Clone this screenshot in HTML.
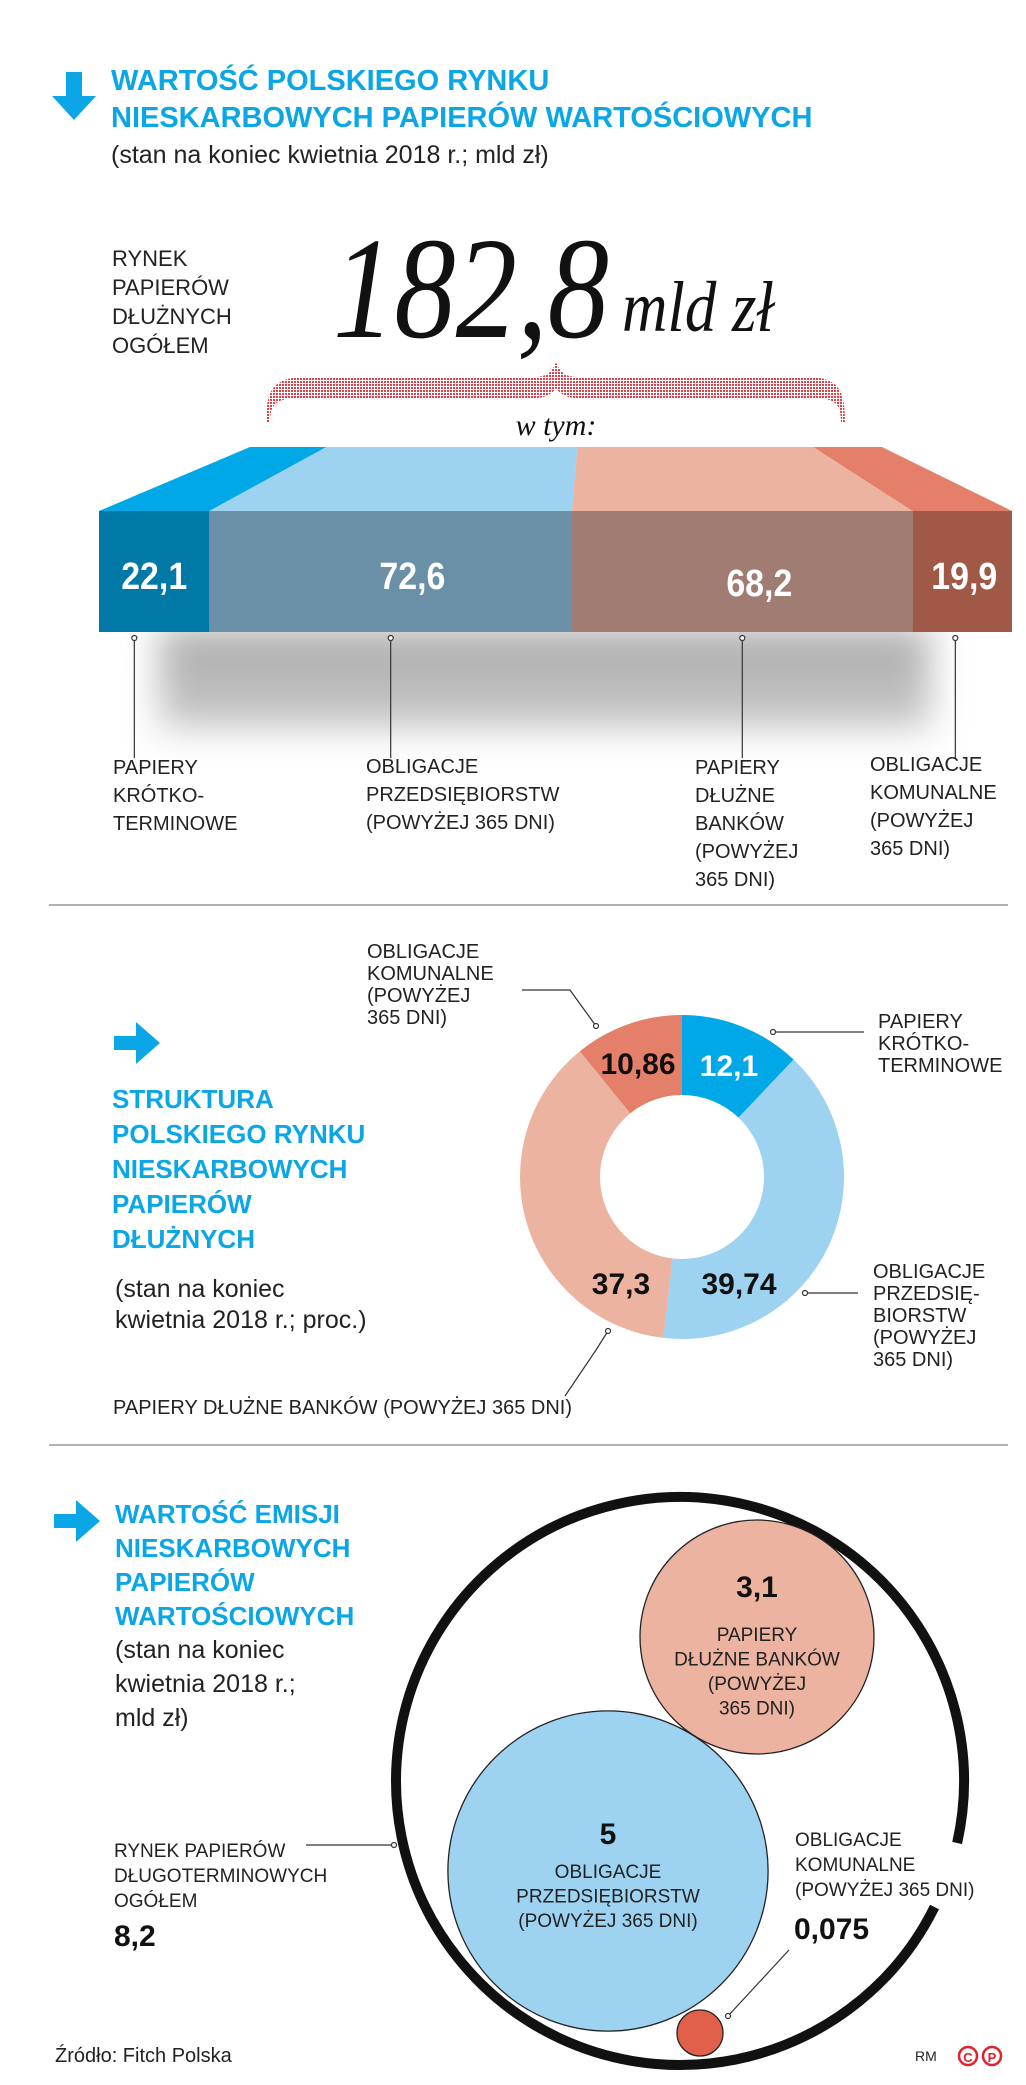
<!DOCTYPE html>
<html><head><meta charset="utf-8"><style>
html,body{margin:0;padding:0;background:#fff}
svg{display:block}
text{font-family:"Liberation Sans","DejaVu Sans",sans-serif}
</style></head><body>
<svg id="c" width="1026" height="2085" viewBox="0 0 1026 2085" xmlns="http://www.w3.org/2000/svg">
<defs>
<pattern id="dots" width="3" height="3" patternUnits="userSpaceOnUse"><rect width="2" height="2" fill="#e0404a"/></pattern>
<filter id="blur" x="-20%" y="-80%" width="140%" height="260%"><feGaussianBlur stdDeviation="18"/></filter>
<linearGradient id="shg" x1="0" y1="0" x2="0" y2="1"><stop offset="0" stop-color="#aaa"/><stop offset="1" stop-color="#c8c8c8"/></linearGradient>
</defs>

<!-- Section 1 header -->
<path d="M66 72 h16 v24 h14 l-22 24 l-22 -24 h14 z" fill="#0aa6e6"/>
<text x="111" y="90" font-size="29" font-weight="bold" fill="#0aa6e6">WARTOŚĆ POLSKIEGO RYNKU</text>
<text x="111" y="127" font-size="29" font-weight="bold" fill="#0aa6e6">NIESKARBOWYCH PAPIERÓW WARTOŚCIOWYCH</text>
<text x="111" y="163" font-size="25" fill="#222">(stan na koniec kwietnia 2018 r.; mld zł)</text>

<g font-size="22" fill="#222">
<text x="112" y="266">RYNEK</text><text x="112" y="295">PAPIERÓW</text><text x="112" y="324">DŁUŻNYCH</text><text x="112" y="353">OGÓŁEM</text>
</g>
<text x="333" y="337" font-size="145" font-style="italic" textLength="276" lengthAdjust="spacingAndGlyphs" fill="#111" style="font-family:'Liberation Serif',serif">182,8</text>
<text x="622" y="331" font-size="72" font-style="italic" textLength="152" lengthAdjust="spacingAndGlyphs" fill="#111" style="font-family:'Liberation Serif',serif">mld zł</text>

<path d="M266 423 C266 392 272 379 300 377 H535 C548 377 553 370 556 362 C559 370 564 377 577 377 H812 C840 379 845 392 845 423 L841 423 C841 404 836 398 812 398 H577 C566 398 560 394 556 388 C552 394 546 398 535 398 H300 C276 398 270 404 270 423 Z" fill="url(#dots)"/>
<text x="556" y="435" text-anchor="middle" font-size="30" font-style="italic" style="font-family:'Liberation Serif',serif" fill="#111">w tym:</text>

<rect x="160" y="628" width="770" height="100" fill="url(#shg)" filter="url(#blur)"/>
<g id="bar"></g>
<g id="barLeaders"></g>

<g font-size="20" fill="#222">
<text x="113" y="774"><tspan x="113">PAPIERY</tspan><tspan x="113" dy="28">KRÓTKO-</tspan><tspan x="113" dy="28">TERMINOWE</tspan></text>
<text x="366" y="773"><tspan x="366">OBLIGACJE</tspan><tspan x="366" dy="28">PRZEDSIĘBIORSTW</tspan><tspan x="366" dy="28">(POWYŻEJ 365 DNI)</tspan></text>
<text x="695" y="774"><tspan x="695">PAPIERY</tspan><tspan x="695" dy="28">DŁUŻNE</tspan><tspan x="695" dy="28">BANKÓW</tspan><tspan x="695" dy="28">(POWYŻEJ</tspan><tspan x="695" dy="28">365 DNI)</tspan></text>
<text x="870" y="771"><tspan x="870">OBLIGACJE</tspan><tspan x="870" dy="28">KOMUNALNE</tspan><tspan x="870" dy="28">(POWYŻEJ</tspan><tspan x="870" dy="28">365 DNI)</tspan></text>
</g>

<line x1="49" y1="905" x2="1008" y2="905" stroke="#999" stroke-width="1.5"/>

<!-- Section 2 -->
<path d="M114 1036 h22 v-14 l24 21 l-24 21 v-14 h-22 z" fill="#0aa6e6"/>
<g font-size="26" font-weight="bold" fill="#0aa6e6">
<text x="112" y="1108">STRUKTURA</text><text x="112" y="1143">POLSKIEGO RYNKU</text><text x="112" y="1178">NIESKARBOWYCH</text><text x="112" y="1213">PAPIERÓW</text><text x="112" y="1248">DŁUŻNYCH</text>
</g>
<g font-size="25" fill="#222"><text x="115" y="1297">(stan na koniec</text><text x="115" y="1328">kwietnia 2018 r.; proc.)</text></g>
<g id="donut"></g>
<g font-size="30" font-weight="bold">
<text x="638" y="1074" text-anchor="middle" fill="#111">10,86</text>
<text x="729" y="1076" text-anchor="middle" fill="#fff">12,1</text>
<text x="621" y="1294" text-anchor="middle" fill="#111">37,3</text>
<text x="739" y="1294" text-anchor="middle" fill="#111">39,74</text>
</g>
<g stroke="#333" stroke-width="1.2" fill="none">
<polyline points="522,990 570,990 596,1026"/><circle cx="596" cy="1026" r="2.5" fill="#fff"/>
<polyline points="773,1032 864,1032"/><circle cx="773" cy="1032" r="2.5" fill="#fff"/>
<polyline points="805,1293 858,1293"/><circle cx="805" cy="1293" r="2.5" fill="#fff"/>
<polyline points="608,1331 596,1350 565,1396"/><circle cx="608" cy="1331" r="2.5" fill="#fff"/>
</g>
<g font-size="20" fill="#222">
<text x="367" y="958"><tspan x="367">OBLIGACJE</tspan><tspan x="367" dy="22">KOMUNALNE</tspan><tspan x="367" dy="22">(POWYŻEJ</tspan><tspan x="367" dy="22">365 DNI)</tspan></text>
<text x="878" y="1028"><tspan x="878">PAPIERY</tspan><tspan x="878" dy="22">KRÓTKO-</tspan><tspan x="878" dy="22">TERMINOWE</tspan></text>
<text x="873" y="1278"><tspan x="873">OBLIGACJE</tspan><tspan x="873" dy="22">PRZEDSIĘ-</tspan><tspan x="873" dy="22">BIORSTW</tspan><tspan x="873" dy="22">(POWYŻEJ</tspan><tspan x="873" dy="22">365 DNI)</tspan></text>
<text x="113" y="1414">PAPIERY DŁUŻNE BANKÓW (POWYŻEJ 365 DNI)</text>
</g>

<line x1="49" y1="1445" x2="1008" y2="1445" stroke="#999" stroke-width="1.5"/>

<!-- Section 3 -->
<path d="M54 1514 h22 v-14 l24 21 l-24 21 v-14 h-22 z" fill="#0aa6e6"/>
<g font-size="26" font-weight="bold" fill="#0aa6e6">
<text x="115" y="1523">WARTOŚĆ EMISJI</text><text x="115" y="1557">NIESKARBOWYCH</text><text x="115" y="1591">PAPIERÓW</text><text x="115" y="1625">WARTOŚCIOWYCH</text>
</g>
<g font-size="25" fill="#222"><text x="115" y="1658">(stan na koniec</text><text x="115" y="1692">kwietnia 2018 r.;</text><text x="115" y="1726">mld zł)</text></g>
<g id="bubbles"></g>
<g font-size="19" fill="#222">
<text x="114" y="1857"><tspan x="114">RYNEK PAPIERÓW</tspan><tspan x="114" dy="25">DŁUGOTERMINOWYCH</tspan><tspan x="114" dy="25">OGÓŁEM</tspan></text>
<text x="114" y="1946" font-size="30" font-weight="bold" fill="#111">8,2</text>
<text x="757" y="1597" text-anchor="middle" font-size="30" font-weight="bold" fill="#111">3,1</text>
<text x="757" y="1641" text-anchor="middle"><tspan x="757">PAPIERY</tspan><tspan x="757" dy="24.5">DŁUŻNE BANKÓW</tspan><tspan x="757" dy="24.5">(POWYŻEJ</tspan><tspan x="757" dy="24.5">365 DNI)</tspan></text>
<text x="608" y="1844" text-anchor="middle" font-size="30" font-weight="bold" fill="#111">5</text>
<text x="608" y="1878" text-anchor="middle"><tspan x="608">OBLIGACJE</tspan><tspan x="608" dy="24.5">PRZEDSIĘBIORSTW</tspan><tspan x="608" dy="24.5">(POWYŻEJ 365 DNI)</tspan></text>
<text x="795" y="1846"><tspan x="795">OBLIGACJE</tspan><tspan x="795" dy="25">KOMUNALNE</tspan><tspan x="795" dy="25">(POWYŻEJ 365 DNI)</tspan></text>
<text x="794" y="1939" font-size="30" font-weight="bold" fill="#111">0,075</text>
</g>
<g stroke="#333" stroke-width="1.2" fill="none">
<polyline points="306,1845 394,1845"/><circle cx="394" cy="1845" r="2.5" fill="#fff"/>
<polyline points="789,1950 728,2016"/><circle cx="728" cy="2016" r="2.5" fill="#fff"/>
</g>
<text x="55" y="2062" font-size="20" fill="#222">Źródło: Fitch Polska</text>
<text x="915" y="2061" font-size="14" fill="#222">RM</text>
<g fill="none" stroke="#e0202a" stroke-width="2.5">
<circle cx="968" cy="2056" r="9"/><circle cx="992" cy="2056" r="9"/>
<text x="968" y="2062" font-size="13" font-weight="bold" text-anchor="middle" fill="#e0202a" stroke="none">C</text>
<text x="992" y="2062" font-size="13" font-weight="bold" text-anchor="middle" fill="#e0202a" stroke="none">P</text>
</g>
</svg>
<script>
// Bar chart data
const barCategories = ['short-term','corporate','banks','municipal'];
const barValues = [22.1, 72.6, 68.2, 19.9];
const barLabels = ['22,1','72,6','68,2','19,9'];
// Donut data
const donutCategories = ['short-term','corporate','banks','municipal'];
const donutValues = [12.1, 39.74, 37.3, 10.86];
// Bubble data
const bubbleCategories = ['total','banks','corporate','municipal'];
const bubbleValues = [8.2, 3.1, 5, 0.075];

const NS='http://www.w3.org/2000/svg';
function mk(tag, attrs, parent){const e=document.createElementNS(NS,tag);for(const k in attrs)e.setAttribute(k,attrs[k]);parent.appendChild(e);return e;}

// ---- bar
const barG=document.getElementById('bar'), leadG=document.getElementById('barLeaders');
const total=barValues.reduce((a,b)=>a+b,0);
const bx0=99,bx1=1012,tx0=250,tx1=882,yTop=447,yBar=511,yBot=632;
const xs=v=>bx0+(bx1-bx0)*v/total, xt=v=>tx0+(tx1-tx0)*v/total;
const topCols=['#00a8e8','#9dd2f0','#ebb3a0','#e47f6a'];
const barCols=['#0079a6','#6a90a8','#a17c72','#a05946'];
const valYs=[589,589,596,589];
let cum=0;
barValues.forEach((v,i)=>{
  const a=cum,b=cum+v;cum=b;
  const t=mk('polygon',{points:`${xt(a)},${yTop} ${xt(b)},${yTop} ${xs(b)},${yBar} ${xs(a)},${yBar}`,fill:topCols[i]},barG);
  
  
  const r=mk('rect',{x:xs(a),y:yBar,width:xs(b)-xs(a),height:yBot-yBar,fill:barCols[i]},barG);
  
  
  const w=xs(b)-xs(a);
  const cx = i===0? xs(a)+w/2 : (i===3? xs(a)+w/2+2 : xs(a)+w*(i===1?0.56:0.55));
  const tx=mk('text',{x:cx,y:valYs[i],'text-anchor':'middle','font-size':38,'font-weight':'bold',fill:'#fff',textLength:66,lengthAdjust:'spacingAndGlyphs'},barG);
  tx.textContent=barLabels[i];
  
  
  const lx = i===0? xs(a)+w*0.32 : (i===3? xs(a)+w*0.43 : xs(a)+w*0.5);
  const ln=mk('line',{x1:lx,y1:640,x2:lx,y2:758,stroke:'#333','stroke-width':1.2},leadG);
  
  
  mk('circle',{cx:lx,cy:638,r:2.5,fill:'#fff',stroke:'#333','stroke-width':1.2},leadG);
});

// ---- donut
const dG=document.getElementById('donut');
const dcx=682,dcy=1177,R=162,r0=82;
const dCols=['#00a8e8','#9dd2f0','#ebb3a0','#e47f6a'];
const dTot=donutValues.reduce((a,b)=>a+b,0);
let ang=0;
function pt(rad,a){return [dcx+rad*Math.sin(a),dcy-rad*Math.cos(a)];}
donutValues.forEach((v,i)=>{
  const a0=ang,a1=ang+v/dTot*2*Math.PI;ang=a1;
  const lg=(a1-a0)>Math.PI?1:0;
  const p0=pt(R,a0),p1=pt(R,a1),q1=pt(r0,a1),q0=pt(r0,a0);
  const p=mk('path',{d:`M${p0} A${R},${R} 0 ${lg} 1 ${p1} L${q1} A${r0},${r0} 0 ${lg} 0 ${q0} Z`,fill:dCols[i]},dG);
  
  
});

// ---- bubbles
const bG=document.getElementById('bubbles');
const rad=v=>Math.max(55.7*Math.pow(v,0.656),23);
const RC=[680,1781], RR=284;
const g0=Math.asin((1907-RC[1])/RR), g1=Math.asin((1843-RC[1])/RR);
const ps=[RC[0]+RR*Math.cos(g0),RC[1]+RR*Math.sin(g0)], pe=[RC[0]+RR*Math.cos(g1),RC[1]+RR*Math.sin(g1)];
const ring=mk('path',{d:`M${ps} A${RR},${RR} 0 1 1 ${pe}`,fill:'none',stroke:'#111','stroke-width':10},bG);


const bCenters=[[757,1637],[608,1871],[700,2033]];
const bCols=['#ebb3a0','#9dd2f0','#e0604a'];
[1,2,3].forEach((idx,k)=>{
  const c=mk('circle',{cx:bCenters[k][0],cy:bCenters[k][1],r:rad(bubbleValues[idx]),fill:bCols[k],stroke:'#222','stroke-width':1.3},bG);
  
  
});
</script>
</body></html>
